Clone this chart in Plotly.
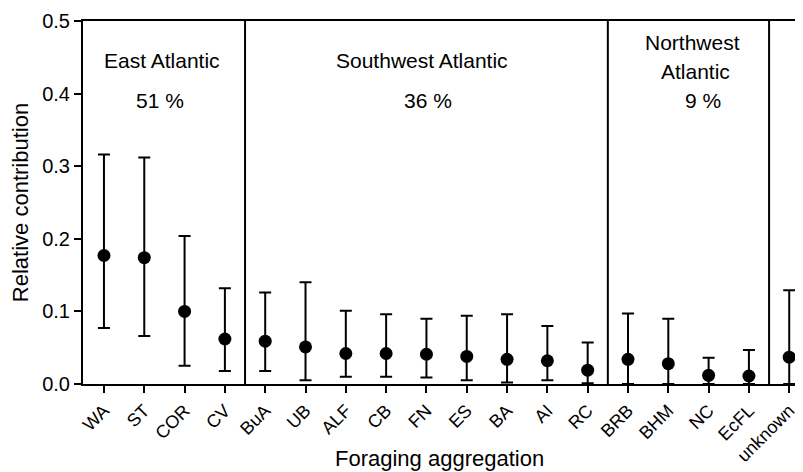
import plotly.graph_objects as go

categories = ["WA", "ST", "COR", "CV", "BuA", "UB", "ALF", "CB", "FN", "ES",
              "BA", "AI", "RC", "BRB", "BHM", "NC", "EcFL", "unknown"]
mean_vals = [0.177, 0.174, 0.100, 0.062, 0.059, 0.051, 0.042, 0.042, 0.041, 0.038,
             0.034, 0.032, 0.019, 0.034, 0.028, 0.012, 0.011, 0.037]
upper_vals = [0.316, 0.312, 0.204, 0.132, 0.126, 0.140, 0.101, 0.096, 0.090, 0.094,
              0.096, 0.080, 0.057, 0.097, 0.090, 0.036, 0.047, 0.129]
lower_vals = [0.077, 0.066, 0.025, 0.018, 0.018, 0.005, 0.010, 0.010, 0.009, 0.005,
              0.002, 0.005, 0.001, 0.000, 0.000, 0.000, 0.000, 0.000]
region_dividers = [3.5, 12.5, 16.5]
y_ticks = [0.0, 0.1, 0.2, 0.3, 0.4, 0.5]

xpos = list(range(len(categories)))
err_plus = [u - m for u, m in zip(upper_vals, mean_vals)]
err_minus = [m - l for m, l in zip(mean_vals, lower_vals)]

FONT = "Liberation Sans, Arial, sans-serif"

fig = go.Figure()
fig.add_trace(go.Scatter(
    x=xpos, y=mean_vals, mode="markers",
    marker=dict(color="black", size=13, symbol="circle"),
    error_y=dict(type="data", symmetric=False, array=err_plus, arrayminus=err_minus,
                 color="black", thickness=2, width=6),
    showlegend=False, cliponaxis=False,
))

for xd in region_dividers:
    fig.add_shape(type="line", xref="x", yref="y", x0=xd, x1=xd, y0=0, y1=0.5,
                  line=dict(color="black", width=2))

ann_font = dict(family=FONT, size=21, color="black")
annotations = [
    dict(x=1.44, y=0.446, text="East Atlantic"),
    dict(x=1.39, y=0.391, text="51 %"),
    dict(x=7.89, y=0.446, text="Southwest Atlantic"),
    dict(x=8.04, y=0.391, text="36 %"),
    dict(x=14.59, y=0.470, text="Northwest"),
    dict(x=14.67, y=0.430, text="Atlantic"),
    dict(x=14.86, y=0.391, text="9 %"),
]
for a in annotations:
    fig.add_annotation(xref="x", yref="y", showarrow=False, font=ann_font,
                       xanchor="center", yanchor="middle", **a)

# x-axis title placed as a paper-anchored annotation so it sits where the reference has it
fig.add_annotation(xref="paper", yref="paper", x=0.49, y=-0.204, showarrow=False,
                   text="Foraging aggregation", xanchor="center", yanchor="middle",
                   font=dict(family=FONT, size=22, color="black"))

fig.update_layout(
    width=803, height=472,
    margin=dict(l=75, r=0, t=13, b=96, autoexpand=False),
    paper_bgcolor="white", plot_bgcolor="white",
    font=dict(family=FONT, color="black"),
    xaxis=dict(
        range=[-0.52, 17.54], tickmode="array", tickvals=xpos, ticktext=categories,
        tickangle=-45, ticks="outside", ticklen=7, tickwidth=2, tickcolor="black",
        showline=True, linecolor="black", linewidth=2, mirror=True,
        showgrid=False, zeroline=False, automargin=False,
        tickfont=dict(family=FONT, size=18, color="black"),
    ),
    yaxis=dict(
        range=[0, 0.5], tickmode="array", tickvals=y_ticks,
        ticktext=[f"{v:.1f}" for v in y_ticks],
        ticks="outside", ticklen=7, tickwidth=2, tickcolor="black",
        showline=True, linecolor="black", linewidth=2,
        showgrid=False, zeroline=False, automargin=False,
        tickfont=dict(family=FONT, size=20, color="black"),
        title=dict(text="Relative contribution", font=dict(family=FONT, size=22, color="black"),
                   standoff=8),
    ),
)

fig.write_html("out.html")
